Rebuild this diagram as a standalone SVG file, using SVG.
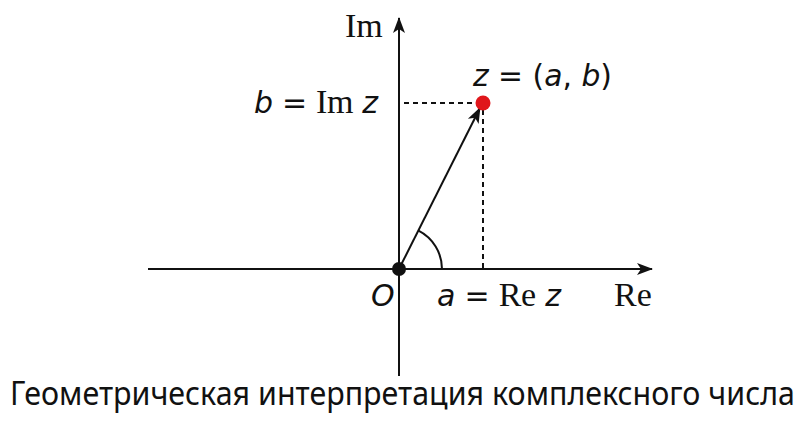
<svg xmlns="http://www.w3.org/2000/svg" width="806" height="422" viewBox="0 0 806 422">
<style>
.ax{stroke:#111;stroke-width:2;fill:none}
.dash{stroke:#111;stroke-width:2;stroke-dasharray:5,4;fill:none}
.serif{font-family:"Liberation Serif","DejaVu Serif",serif;font-size:34px;fill:#111}
.math{font-family:"DejaVu Sans","Liberation Sans",sans-serif;font-size:30px;fill:#111}
.it{font-style:italic}
.cap{font-family:"Noto Sans","Open Sans",sans-serif;font-size:32px;fill:#111}
</style>
<defs>
<marker id="ah2" markerWidth="16" markerHeight="16" refX="15" refY="8" orient="auto" markerUnits="userSpaceOnUse" viewBox="0 0 16 16">
<path d="M0,2 L16,8 L0,14 L4,8 Z" fill="#111"/>
</marker>
</defs>
<rect width="806" height="422" fill="#fff"/>
<g id="connectors">
<line class="ax" x1="148" y1="269" x2="652" y2="269" marker-end="url(#ah2)"/>
<line class="ax" x1="399" y1="376" x2="399" y2="18" marker-end="url(#ah2)"/>
<line class="ax" x1="399" y1="269" x2="480" y2="108" marker-end="url(#ah2)"/>
<line class="dash" x1="404" y1="103" x2="478" y2="103"/>
<line class="dash" x1="483" y1="110" x2="483" y2="268"/>
<path class="ax" d="M442,269 A43,43 0 0 0 418.5,230.7"/>
</g>
<g id="origin"><circle cx="399" cy="269" r="7" fill="#111"/></g>
<g id="point"><circle cx="483" cy="103" r="7.5" fill="#e0161b"/></g>
<g id="labels">
<text class="serif" x="345" y="37">Im</text>
<text class="math" x="473" y="86" textLength="139" lengthAdjust="spacingAndGlyphs"><tspan class="it">z</tspan> = (<tspan class="it">a</tspan>, <tspan class="it">b</tspan>)</text>
<text class="math" x="254" y="113" textLength="124" lengthAdjust="spacing"><tspan class="it">b</tspan> = <tspan font-family="Liberation Serif,serif" font-size="34">Im</tspan> <tspan class="it">z</tspan></text>
<text class="math it" x="371" y="306">O</text>
<text class="math" x="437" y="306" textLength="124" lengthAdjust="spacing"><tspan class="it">a</tspan> = <tspan font-family="Liberation Serif,serif" font-size="34">Re</tspan> <tspan class="it">z</tspan></text>
<text class="serif" x="614" y="306">Re</text>
<g transform="translate(10,405) scale(0.844,1)">
<text class="cap" x="0" y="0" textLength="930" lengthAdjust="spacingAndGlyphs">Геометрическая интерпретация комплексного числа</text>
</g>
</g>
</svg>
